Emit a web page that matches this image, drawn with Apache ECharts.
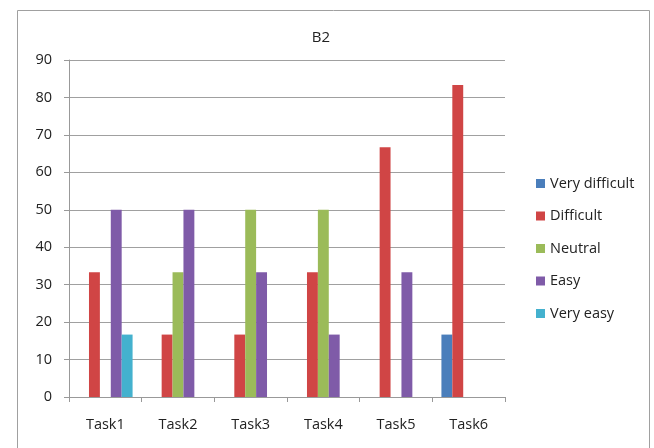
<!DOCTYPE html>
<html>
<head>
<meta charset="utf-8">
<script src="https://cdn.jsdelivr.net/npm/echarts@6/dist/echarts.min.js"></script>
<style>html,body{margin:0;padding:0;background:#fff}#c{width:654px;height:448px}</style>
</head>
<body>
<div id="c"></div>
<script>
const categories = ['Task1', 'Task2', 'Task3', 'Task4', 'Task5', 'Task6'];
const seriesNames = ['Very difficult', 'Difficult', 'Neutral', 'Easy', 'Very easy'];
const veryDifficult = [0, 0, 0, 0, 0, 16.67];
const difficult = [33.33, 16.67, 16.67, 33.33, 66.67, 83.33];
const neutral = [0, 33.33, 50, 50, 0, 0];
const easy = [50, 50, 33.33, 16.67, 33.33, 0];
const veryEasy = [16.67, 0, 0, 0, 0, 0];
const yTicks = [0, 10, 20, 30, 40, 50, 60, 70, 80, 90];

const colors = ['#4A7EBB', '#D04545', '#9BBB59', '#7F5BA8', '#44B1CE'];
const values = [veryDifficult, difficult, neutral, easy, veryEasy];
const font = 'Open Sans';

const chart = echarts.init(document.getElementById('c'), null, {renderer: 'canvas'});
chart.setOption({
  animation: false,
  color: colors,
  graphic: [{
    type: 'rect', left: 15, top: 8, silent: true,
    shape: {width: 632, height: 450},
    style: {fill: 'none', stroke: '#a0a0a0', lineWidth: 1}
  }],
  title: {
    text: 'B2', left: 316, top: 25, textAlign: 'center',
    textStyle: {fontFamily: font, fontSize: 15, fontWeight: 'normal', color: '#222'}
  },
  legend: {
    orient: 'vertical', left: 531, top: 171,
    itemWidth: 9, itemHeight: 9, itemGap: 17.5,
    icon: 'rect',
    data: seriesNames,
    textStyle: {fontFamily: font, fontSize: 14.5, color: '#222'}
  },
  grid: {left: 69, right: 149, top: 60, bottom: 51},
  xAxis: {
    type: 'category', data: categories,
    axisLine: {lineStyle: {color: '#999'}},
    axisTick: {show: true, length: 5, lineStyle: {color: '#999'}},
    axisLabel: {fontFamily: font, fontSize: 14.5, color: '#222', margin: 20}
  },
  yAxis: {
    type: 'value', min: yTicks[0], max: yTicks[yTicks.length - 1], interval: 10,
    axisLine: {show: true, lineStyle: {color: '#999'}},
    axisTick: {show: true, length: 5, lineStyle: {color: '#999'}},
    splitLine: {lineStyle: {color: '#a0a0a0'}},
    axisLabel: {fontFamily: font, fontSize: 14.5, color: '#222', margin: 17}
  },
  series: seriesNames.map((n, i) => ({
    name: n, type: 'bar', data: values[i],
    barGap: '0%', barCategoryGap: '25%',
    itemStyle: {color: colors[i]}
  }))
});
</script>
</body>
</html>
